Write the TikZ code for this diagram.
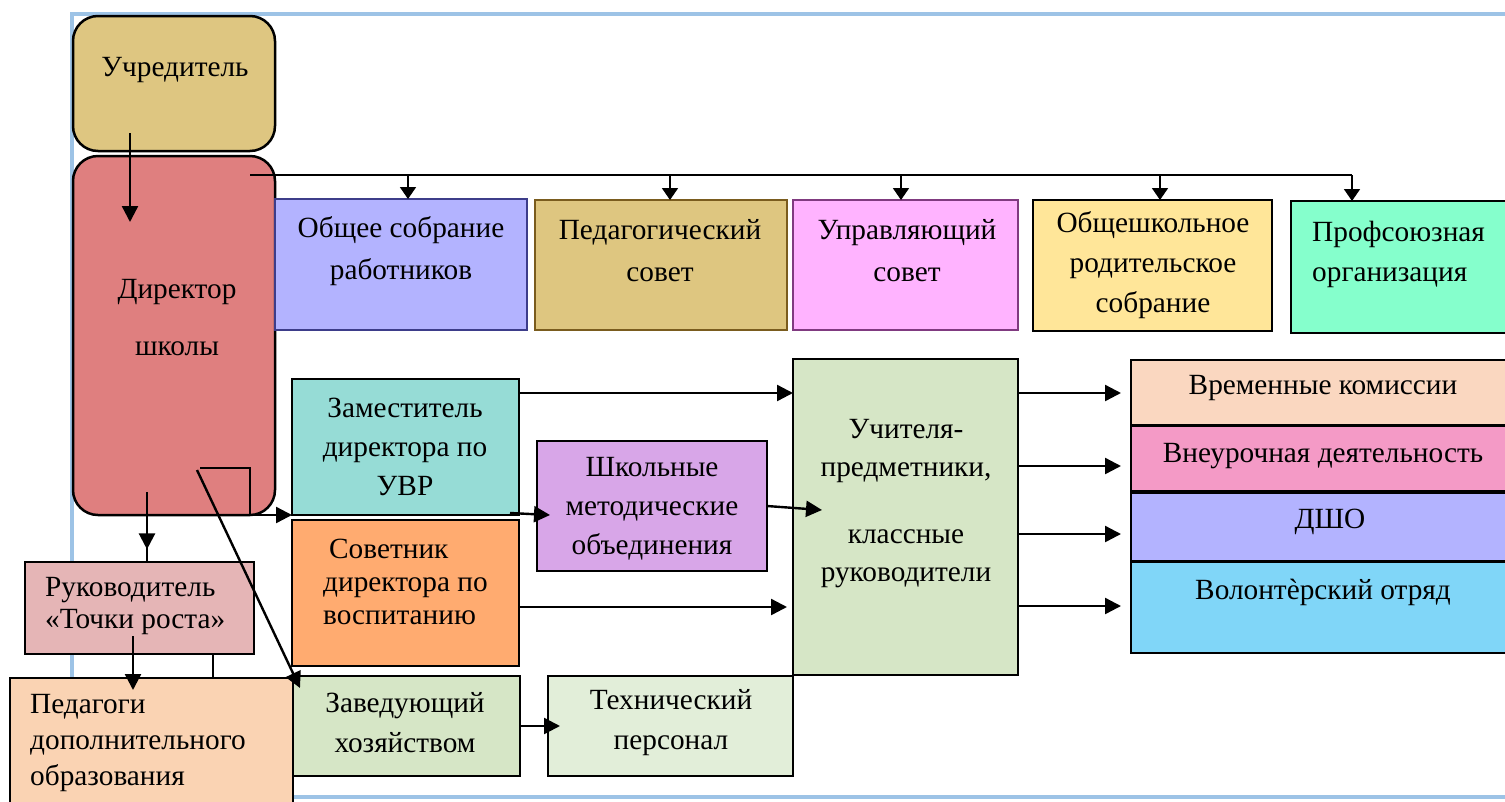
\documentclass[tikz,border=0pt]{standalone}
\usepackage{fontspec}
\setmainfont{Liberation Serif}
\newfontfamily\tnrfont{Liberation Serif}
\usetikzlibrary{arrows.meta,calc}
\definecolor{frameblue}{HTML}{9DC3E6}
\definecolor{cUchr}{HTML}{DEC681}
\definecolor{cDir}{HTML}{DF7F7F}
\definecolor{cObsh}{HTML}{B3B3FF}
\definecolor{cObshD}{HTML}{3D3D8A}
\definecolor{cPed}{HTML}{DEC680}
\definecolor{cPedD}{HTML}{7A5C1E}
\definecolor{cUpr}{HTML}{FFB3FF}
\definecolor{cUprD}{HTML}{803A80}
\definecolor{cObR}{HTML}{FFE699}
\definecolor{cProf}{HTML}{85FFCC}
\definecolor{cZam}{HTML}{96DCD6}
\definecolor{cSov}{HTML}{FFAB70}
\definecolor{cShk}{HTML}{D8A6E8}
\definecolor{cUch}{HTML}{D6E6C6}
\definecolor{cVrem}{HTML}{FAD7C0}
\definecolor{cVneur}{HTML}{F49AC6}
\definecolor{cDsho}{HTML}{B3B3FF}
\definecolor{cVol}{HTML}{80D6F8}
\definecolor{cRuk}{HTML}{E5B5B6}
\definecolor{cPedag}{HTML}{FAD3B3}
\definecolor{cZav}{HTML}{D6E6C6}
\definecolor{cTech}{HTML}{E2EED9}
\newcommand{\orgbox}[7][]{%
  \node[box,fill=#7,minimum width={#5-#3},minimum height={#6-#4},#1] (#2) at (#3,#4) {};}
\newcommand{\fs}[1]{\tnrfont\fontsize{29.3}{#1}\selectfont}
\begin{document}
\begin{tikzpicture}[x=1pt,y=-1pt,
  box/.style={draw=black,line width=2.5pt,rectangle,inner sep=0pt,outer sep=0pt,anchor=north west},
  txt/.style={inner sep=0pt,align=center,font=\fs{40}},
  arr/.style={line width=2.4pt,-{Triangle[length=16pt,width=16pt]}},
  ln/.style={line width=2.4pt},
  bus/.style={line width=1.8pt},
  busarr/.style={line width=1.8pt,-{Triangle[length=12pt,width=16pt]}}]
\useasboundingbox (0,0) rectangle (1505,801);
\clip (0,0) rectangle (1505,801);
\fill[white] (0,0) rectangle (1505,801);
\draw[line width=4pt,draw=frameblue] (72,14) rectangle (1540,797);
% boxes
\orgbox[rounded corners=25pt]{uchr}{73}{16}{275}{151}{cUchr}
\orgbox[rounded corners=25pt]{dir}{73}{156}{275}{515}{cDir}
\orgbox[draw=cObshD]{obsh}{275}{199}{527}{330}{cObsh}
\orgbox[draw=cPedD]{ped}{535}{200}{787}{330}{cPed}
\orgbox[draw=cUprD]{upr}{793}{200}{1018}{330}{cUpr}
\orgbox{obshrod}{1033}{200}{1272}{331}{cObR}
\orgbox{prof}{1291}{201}{1520}{333}{cProf}
\orgbox{zam}{292}{379}{519}{515}{cZam}
\orgbox{sov}{292}{520}{519}{666}{cSov}
\orgbox{shk}{537}{441}{767}{571}{cShk}
\orgbox{uch}{793}{359}{1018}{675}{cUch}
\orgbox{vrem}{1131}{360}{1520}{425}{cVrem}
\orgbox{vneur}{1131}{426}{1520}{491}{cVneur}
\orgbox{dsho}{1131}{493}{1520}{561}{cDsho}
\orgbox{volont}{1131}{562}{1520}{653}{cVol}
\orgbox{ruk}{25}{562}{254}{654}{cRuk}
\orgbox{pedag}{10}{678}{293}{815}{cPedag}
\orgbox{zav}{293}{676}{520}{776}{cZav}
\orgbox{tech}{548}{676}{793}{776}{cTech}
% texts
\node[txt] (tUchr) at (175,70) {Учредитель};
\node[txt,font=\fs{57}] (tDir) at (177,318) {Директор\\школы};
\node[txt,font=\fs{42}] (tObsh) at (401,251) {Общее собрание\\работников};
\node[txt,font=\fs{42}] (tPed) at (660,251) {Педагогический\\совет};
\node[txt,font=\fs{42}] (tUpr) at (907,251) {Управляющий\\совет};
\node[txt] (tObR) at (1153,265) {Общешкольное\\родительское\\собрание};
\node[txt,align=left,anchor=west] (tProf) at (1312,254) {Профсоюзная\\организация};
\node[txt,font=\fs{39}] (tZam) at (405,447) {Заместитель\\директора по\\УВР};
\node[txt,align=left,anchor=west,font=\fs{33}] (tSov) at (323,582) {\hspace*{6pt}Советник\\директора по\\воспитанию};
\node[txt,font=\fs{39}] (tShk) at (652,509) {Школьные\\методические\\объединения};
\node[txt,font=\fs{38}] (tUch) at (906,503.5) {Учителя-\\предметники,\\[29pt]классные\\руководители};
\node[txt] (tVrem) at (1323,388) {Временные комиссии};
\node[txt] (tVneur) at (1323,456) {Внеурочная деятельность};
\node[txt] (tDsho) at (1330,522) {ДШО};
\node[txt] (tVol) at (1323,592) {Волонтѐрский отряд};
\node[txt,align=left,anchor=west,font=\fs{32}] (tRuk) at (45,606) {Руководитель\\«Точки роста»};
\node[txt,align=left,anchor=west,font=\fs{36}] (tPedag) at (30,743) {Педагоги\\дополнительного\\образования};
\node[txt] (tZav) at (405,723) {Заведующий\\хозяйством};
\node[txt] (tTech) at (671,723) {Технический\\персонал};
% top bus
\coordinate (bus) at ([xshift=-25pt,yshift=-19pt]dir.north east);
\coordinate (pA) at ([xshift=7pt]obsh.north);
\coordinate (pB) at ([xshift=9pt]ped.north);
\coordinate (pC) at ([xshift=-4.5pt]upr.north);
\coordinate (pD) at ([xshift=7.5pt]obshrod.north);
\coordinate (pE) at ([xshift=-53.5pt]prof.north);
\draw[bus] (bus) -- (bus -| pE);
\foreach \p in {pA,pB,pC,pD,pE} \draw[busarr] (bus -| \p) -- (\p);
% connectors
\draw[arr] ([xshift=-44pt,yshift=18pt]uchr.south) -- ([xshift=-44pt,yshift=-66pt]dir.north);
\coordinate (d1) at ([xshift=-27pt,yshift=23pt]dir.south);
\coordinate (d2) at ([xshift=7.5pt]ruk.north);
\draw[ln] (d1) -- (d2);
\draw[arr] (d1) -- ($(d1)!0.82!(d2)$);
\draw[arr] ([xshift=-75pt,yshift=47pt]dir.south east) -| ([xshift=-25pt]dir.south east) -- (zam.south west);
\draw[arr] ([xshift=-78pt,yshift=45pt]dir.south east) -- ([xshift=7pt,yshift=-12pt]zav.north west);
\draw[arr] ([xshift=-6.5pt,yshift=18pt]ruk.south) -- ([xshift=-18.5pt,yshift=-12pt]pedag.north);
\draw[ln] ([xshift=73.5pt]ruk.south) -- ([xshift=61.5pt]pedag.north);
\coordinate (z1) at ([yshift=-14pt]zam.north east);
\draw[arr] (z1) -- (z1 -| uch.west);
\coordinate (s1) at ([yshift=-87pt]sov.north east);
\draw[arr,shorten >=6pt] (s1) -- (s1 -| uch.west);
\draw[arr] ([xshift=-9pt,yshift=2pt]zam.south east) -- ([xshift=13pt,yshift=-9pt]shk.west);
\draw[arr] (shk.east) -- ([xshift=29pt,yshift=7pt]uch.west);
\foreach \s [count=\i] in {34,107,175,247} {
  \coordinate (u\i) at ([yshift=-\s pt]uch.north east);
  \draw[arr,shorten >=10pt] (u\i) -- (u\i -| vrem.west);
}
\draw[arr] (zav.east) -- ([xshift=12pt]tech.west);
\end{tikzpicture}
\end{document}
